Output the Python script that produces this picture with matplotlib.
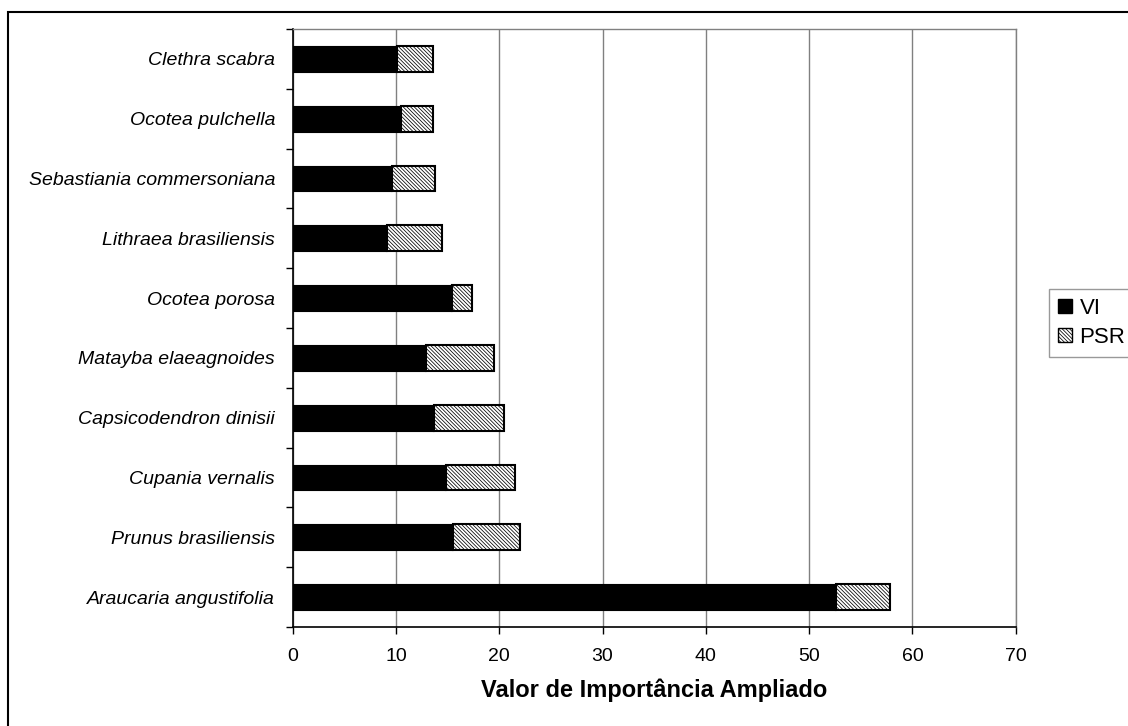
import matplotlib
matplotlib.use("Agg")
import matplotlib.pyplot as plt
from matplotlib.patches import Rectangle, Patch
import numpy as np

species = ["Araucaria angustifolia", "Prunus brasiliensis", "Cupania vernalis",
           "Capsicodendron dinisii", "Matayba elaeagnoides", "Ocotea porosa",
           "Lithraea brasiliensis", "Sebastiania commersoniana", "Ocotea pulchella",
           "Clethra scabra"]
vi = [52.6, 15.5, 14.85, 13.7, 12.95, 15.4, 9.1, 9.6, 10.45, 10.1]
psr = [5.25, 6.5, 6.65, 6.8, 6.55, 2.0, 5.35, 4.15, 3.1, 3.45]
xticks = [0, 10, 20, 30, 40, 50, 60, 70]
xlabel = "Valor de Importância Ampliado"

plt.rcParams['font.family'] = ['Liberation Sans', 'DejaVu Sans']
plt.rcParams['hatch.linewidth'] = 0.55
plt.rcParams['hatch.color'] = 'black'

HATCH = '\\' * 9

W, H = 1128, 726
fig = plt.figure(figsize=(W / 100, H / 100), dpi=100)
ax = fig.add_axes([292.7 / W, 1 - 627 / H, (1015.7 - 292.7) / W, (627 - 29) / H])

y = np.arange(len(species))
bh = 0.43
ax.barh(y, vi, height=bh, color='black', edgecolor='black', linewidth=0.8, zorder=3)
ax.barh(y, psr, left=vi, height=bh, facecolor='white', edgecolor='black',
        hatch=HATCH, linewidth=1.5, zorder=3)

ax.set_xlim(0, 70)
ax.set_ylim(-0.5, len(species) - 0.5)
ax.set_xticks(xticks)
ax.set_xticklabels([str(v) for v in xticks], fontsize=14)
ax.tick_params(axis='x', direction='out', length=5, width=1, pad=10, color='black')

ax.set_yticks(np.arange(-0.5, len(species), 1.0))
ax.set_yticklabels([])
ax.tick_params(axis='y', which='major', direction='out', length=5, width=1)
ax.set_yticks(y, minor=True)
ax.set_yticklabels(species, minor=True, fontsize=14, style='italic')
ax.tick_params(axis='y', which='minor', length=0, pad=12.7)

ax.xaxis.grid(True, color='#808080', linewidth=1, zorder=0)
ax.set_axisbelow(True)
for s in ['top', 'right']:
    ax.spines[s].set_color('#808080')
    ax.spines[s].set_linewidth(1)
for s in ['left', 'bottom']:
    ax.spines[s].set_color('black')
    ax.spines[s].set_linewidth(1.2)

ax.set_xlabel(xlabel, fontsize=17, fontweight='bold', labelpad=10)

handles = [Patch(facecolor='black', edgecolor='black'),
           Patch(facecolor='white', edgecolor='black', hatch=HATCH)]
leg = fig.legend(handles, ["VI", "PSR"], loc='upper left',
                 bbox_to_anchor=(1049 / W, 1 - 289 / H), fontsize=16,
                 frameon=True, fancybox=False, handlelength=0.62, handleheight=0.62,
                 handletextpad=0.35, borderpad=0.4, labelspacing=0.35, borderaxespad=0)
leg.get_frame().set_edgecolor('#808080')
leg.get_frame().set_linewidth(1)

fig.add_artist(Rectangle((8 / W, -0.1), 2, 1 - 12 / H + 0.1, fill=False,
                         edgecolor='black', linewidth=1.5,
                         transform=fig.transFigure))

fig.savefig("out.png", dpi=100)
